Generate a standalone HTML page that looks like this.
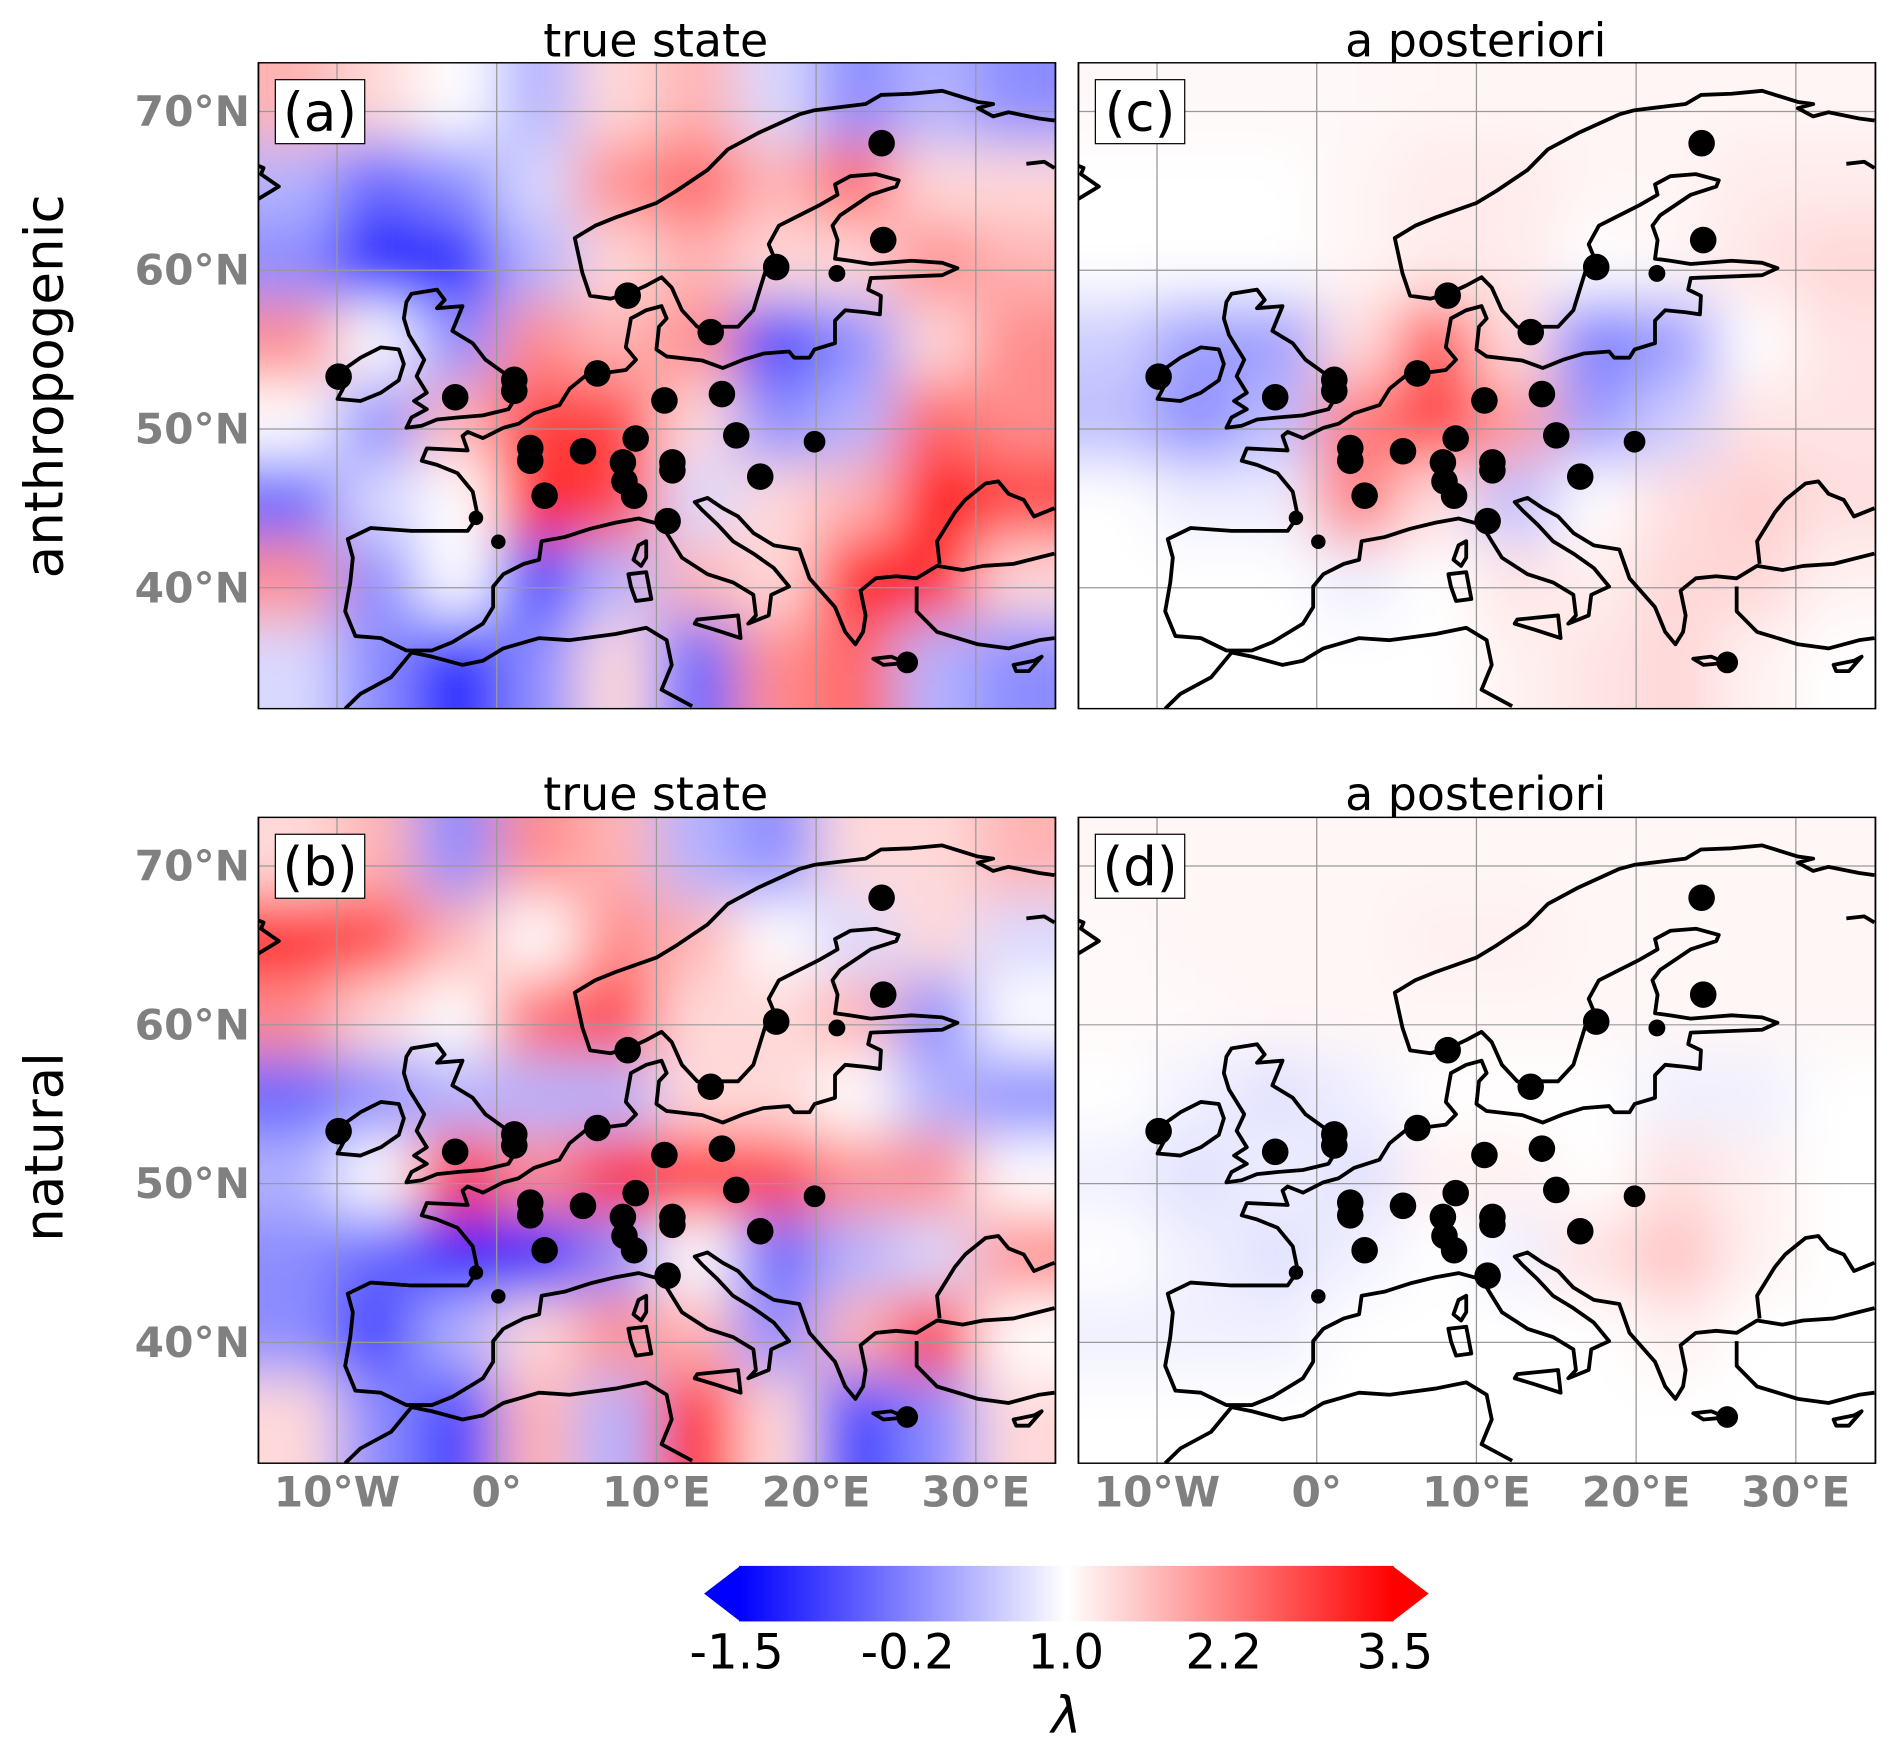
<!DOCTYPE html>
<html><head><meta charset="utf-8">
<style>
html,body{margin:0;padding:0;background:#fff;}
svg{display:block;font-family:"DejaVu Sans","Liberation Sans",sans-serif;}
.tick{fill:#808080;font-weight:bold;font-size:35px;}
.title{font-size:38px;fill:#000;}
#coast *{vector-effect:non-scaling-stroke;}
</style></head>
<body>
<svg id="fig" width="1890" height="1747" viewBox="0 0 1565 1447" preserveAspectRatio="none" xmlns="http://www.w3.org/2000/svg">
<defs>
<filter id="blur" x="-20%" y="-20%" width="140%" height="140%"><feGaussianBlur stdDeviation="55 70"/></filter>
<clipPath id="pclip"><rect x="0" y="0" width="1562" height="1566"/></clipPath>
<linearGradient id="bwr" x1="0" x2="1" y1="0" y2="0">
<stop offset="0" stop-color="#0000ff"/><stop offset="0.5" stop-color="#ffffff"/><stop offset="1" stop-color="#ff0000"/>
</linearGradient>
<g id="coast" fill="none" stroke="#000" stroke-width="3.8" stroke-linejoin="round">
<polyline points="1560,140 1530,135 1470,120 1440,130 1410,110 1440,100 1410,95 1340,68 1280,75 1220,78 1190,100 1090,115 1060,125 980,170 920,210 880,260 820,310 780,340 700,375 660,395 620,425 635,510 650,565 690,572 725,560 760,540 790,520 810,545 830,600 860,640 885,650 900,640 940,640 970,600 985,540 995,500 1010,470 1000,440 1020,395 1060,370 1100,345 1135,320 1130,295 1160,275 1210,270 1255,285 1250,300 1200,320 1140,370 1125,395 1135,430 1130,475 1160,480 1200,488 1280,480 1340,485 1370,498 1340,515 1200,522 1195,550 1220,565 1218,610 1190,605 1150,600 1130,625 1130,680 1090,695 1080,715 1050,715 1040,700 990,705 950,720 910,740 870,722 800,712 780,695 785,640 800,620 790,590 760,600 730,620 720,690 740,720 720,745 690,750 640,760 610,790 590,830 540,850 510,875 480,885 440,910 410,895 400,905 410,940 330,935 320,965 350,975 390,995 420,1040 430,1100 410,1135 300,1135 220,1128 175,1155 185,1200 180,1260 170,1330 190,1390 240,1395 290,1425 340,1425 380,1405 420,1375 440,1360 460,1320 460,1270 480,1240 520,1215 550,1205 555,1160 600,1150 650,1130 700,1115 745,1105 790,1120 800,1140 830,1200 880,1240 930,1260 970,1290 975,1340 960,1360 1000,1340 1005,1290 1040,1270 1010,1225 970,1190 930,1160 900,1120 870,1085 855,1065 880,1055 910,1080 940,1100 970,1140 1010,1170 1060,1180 1080,1250 1130,1320 1150,1380 1170,1410 1185,1380 1190,1340 1180,1280 1210,1250 1250,1245 1290,1250 1330,1220 1380,1230 1420,1220 1480,1215 1560,1190"/>
<polyline points="1335,1215 1330,1160 1365,1090 1385,1060 1425,1020 1450,1015 1470,1045 1500,1060 1520,1100 1560,1080"/>
<polyline points="1290,1270 1290,1330 1330,1380 1410,1410 1470,1420 1530,1400 1560,1395"/>
<polyline points="170,1566 200,1530 260,1490 300,1430 340,1440 400,1460 440,1450 480,1420 550,1395 610,1400 700,1385 760,1370 800,1400 810,1460 790,1520 850,1560"/>
<polygon points="290,580 300,560 350,550 365,575 350,595 400,590 380,650 420,680 445,720 490,760 500,820 490,840 440,855 390,860 350,865 320,880 290,885 300,860 330,840 305,820 330,800 310,760 325,720 310,690 295,660 285,620"/>
<polygon points="160,750 200,715 240,690 275,695 285,730 275,770 240,800 200,820 155,815 170,780"/>
<polygon points="745,1170 760,1160 760,1200 750,1220 735,1205"/>
<polygon points="725,1240 760,1235 770,1300 740,1305 730,1270"/>
<polygon points="860,1350 940,1340 945,1395 895,1375 855,1360"/>
<polygon points="1205,1445 1240,1440 1270,1455 1225,1460"/>
<polyline points="0,250 10,255 5,270 40,300 0,330"/>
<polyline points="1505,245 1540,240 1560,255"/>
<polygon points="1480,1460 1520,1450 1535,1440 1510,1475 1485,1475"/>
</g>
</defs>
<text class="title" x="543" y="47" text-anchor="middle">true state</text>
<text class="title" x="1222" y="47" text-anchor="middle">a posteriori</text>
<text class="title" x="543" y="671" text-anchor="middle">true state</text>
<text class="title" x="1222" y="671" text-anchor="middle">a posteriori</text>
<text x="37" y="320" font-size="44" text-anchor="middle" dominant-baseline="central" transform="rotate(-90 37 320)">anthropogenic</text>
<text x="37" y="950" font-size="44" text-anchor="middle" dominant-baseline="central" transform="rotate(-90 37 950)">natural</text>
<g id="panels"></g>
<g id="ticks"></g>
<g>
<polygon points="583,1320 613,1297 613,1343" fill="#0000ff"/>
<polygon points="1183,1320 1153,1297 1153,1343" fill="#ff0000"/>
<rect x="612" y="1297" width="542" height="46" fill="url(#bwr)"/>
<g id="cbticks"></g>
<text x="883" y="1435" font-size="42" font-style="italic" text-anchor="middle">λ</text>
</g>
</svg>
<script>
// heatmap data: 8 rows (lat 73->33, 5° each) x 10 cols (lon -15->35, 5° each); -1 = blue, +1 = red
const fieldA = [
[0.2,0.1,0,-0.2,0.1,0.2,-0.1,-0.3,-0.2,-0.3],
[-0.2,-0.4,-0.3,-0.1,0.3,0.4,0.2,0.4,0.1,0.1],
[-0.3,-0.9,-0.6,-0.2,0.1,0.2,0.1,0.1,0.3,0.2],
[0.3,0,-0.3,0.3,0.2,0.3,-0.5,-0.3,0.1,0.3],
[0,-0.3,0.2,0.5,0.5,0.1,-0.3,-0.2,0.4,0.3],
[-0.4,-0.1,0,0.6,0.5,-0.1,0.1,0.2,0.8,0.5],
[0.3,-0.3,0,-0.5,-0.2,0.2,0.1,0.8,0.6,0.1],
[-0.1,-0.3,-0.6,-0.3,0.1,-0.4,0.3,0.4,-0.2,-0.3]];
const fieldC = [
[0.02,0.02,0.02,0.02,0.03,0.03,0.03,0.03,0.03,0.03],
[0,0,0,0.03,0.06,0.06,0.03,0.03,0.06,0.06],
[0,0,0,0.03,0.06,0.06,0,0.03,0.08,0.12],
[-0.15,-0.3,-0.3,0.1,0.5,0.1,-0.4,-0.3,0,0.08],
[-0.2,-0.35,-0.2,0.4,0.6,0.3,-0.3,-0.15,0.08,0.08],
[0,-0.05,-0.05,0.4,0.1,-0.2,0,0.1,0.15,0.1],
[0,0,0,-0.05,0,0.08,0.05,0.12,0.12,0.04],
[0,0,0,0,0,0.04,0.08,0.12,0.04,0]];
const fieldB = [
[0.1,0.2,-0.3,0.3,0.2,-0.2,-0.3,0.1,0.1,0.2],
[0.6,0.5,0.2,0,0.3,0.2,0,-0.1,0.1,-0.1],
[0.3,0.1,0,0.4,0.5,0.1,0.1,0.2,-0.3,0],
[-0.4,-0.3,-0.2,-0.2,-0.2,0.1,0.1,0,-0.2,-0.3],
[-0.2,0,0.6,0.3,0.6,0.7,0.5,0.3,0.3,0],
[-0.3,-0.4,-0.6,-0.8,-0.3,0,-0.4,-0.2,-0.1,0.3],
[-0.3,-0.5,-0.2,0.1,0.3,0.2,-0.3,0.2,0.6,0],
[0.1,-0.3,-0.5,0.2,-0.2,0.6,0.1,-0.5,-0.3,0.1]];
const fieldD = [
[0.03,0.03,0.03,0.03,0.03,0.03,0.03,0.03,0.03,0.03],
[0.02,0.03,0.03,0.03,0.05,0.05,0.03,0.03,0.03,0.03],
[0.02,0.02,0.03,0.03,0.03,0.03,0.03,0.03,0.03,0.03],
[0,-0.05,-0.1,-0.05,0,0,0,-0.05,-0.05,0],
[-0.05,-0.1,-0.05,-0.1,0.05,0.05,0,0.1,0.05,0],
[0,-0.05,-0.1,-0.05,0,-0.05,0.1,0.2,0.05,0],
[-0.05,-0.05,-0.05,0,0,0,0,0.05,0,0],
[0,0,0,0,0,0,0,0,0,0]];
// stations
const stLon = [-9.9,-2.6,1.1,1.1,6.3,8.2,13.4,14.1,10.5,8.7,2.1,2.1,5.4,7.9,8.0,8.6,11.0,11.0,15.0,16.5,19.9,3.0,10.7,17.5,21.3,24.1,24.2,25.7,-1.3,0.1];
const stLat = [53.3,52.0,53.1,52.4,53.5,58.4,56.1,52.2,51.8,49.4,48.8,48.0,48.6,47.9,46.7,45.8,47.9,47.4,49.6,47.0,49.2,45.8,44.2,60.2,59.8,68.0,61.9,35.3,44.4,42.9];
const stSize = [11,11,11,11,11,11,11,11,11,11,11,11,11,11,11,11,11,11,11,11,9,11,11,11,7,11,11,9,6,6];
const lonTicks = [-10,0,10,20,30];
const lonLabels = ["10°W","0°","10°E","20°E","30°E"];
const latTicks = [70,60,50,40];
const latLabels = ["70°N","60°N","50°N","40°N"];
const cbValues = [-1.5,-0.2,1.0,2.2,3.5];
const cbLabels = ["-1.5","-0.2","1.0","2.2","3.5"];

const NS="http://www.w3.org/2000/svg";
const SX=0.4225, SY=0.3416;
function px(lon){return 467+lon*31.3;}            // panel-local x
function py(lat){return 888-(lat-50)*38.5;}        // panel-local y
function color(v){v=Math.max(-1,Math.min(1,v));
  if(v<0){const t=Math.round(255*(1+v));return `rgb(${t},${t},255)`;}
  const t=Math.round(255*(1-v));return `rgb(255,${t},${t})`;}
function mk(tag,attrs,parent){const e=document.createElementNS(NS,tag);for(const k in attrs)e.setAttribute(k,attrs[k]);parent.appendChild(e);return e;}

const panels=[
 {x:893-679,y:52,f:fieldA,gain:1.5,lab:"(a)",name:"panel-a"},
 {x:893,y:52,f:fieldC,gain:1.3,lab:"(c)",name:"panel-c"},
 {x:893-679,y:677,f:fieldB,gain:1.5,lab:"(b)",name:"panel-b"},
 {x:893,y:677,f:fieldD,gain:1.2,lab:"(d)",name:"panel-d"}];
const root=document.getElementById('panels');
panels.forEach(p=>{
  const g=mk('g',{transform:`translate(${p.x},${p.y}) scale(${SX},${SY})`},root);
  
  
  const cg=mk('g',{'clip-path':'url(#pclip)'},g);
  mk('rect',{x:0,y:0,width:1562,height:1566,fill:'#fff'},cg);
  const hm=mk('g',{filter:'url(#blur)'},cg);
  
  
  const nr=p.f.length, nc=p.f[0].length;
  for(let r=0;r<nr;r++)for(let c=0;c<nc;c++){
    let x0=px(-15+5*c), x1=px(-10+5*c), y0=py(73-5*r), y1=py(68-5*r);
    if(c===0)x0-=300; if(c===nc-1)x1+=300; if(r===0)y0-=300; if(r===nr-1)y1+=300;
    const cell=mk('rect',{x:x0,y:y0,width:x1-x0+1,height:y1-y0+1,fill:color(p.f[r][c]*p.gain)},hm);
    
    
  }
  lonTicks.forEach(l=>{const gl=mk('line',{x1:px(l),x2:px(l),y1:0,y2:1566,stroke:'#999','stroke-width':2.5},cg);
    
    });
  latTicks.forEach(l=>{const gl=mk('line',{x1:0,x2:1562,y1:py(l),y2:py(l),stroke:'#999','stroke-width':3},cg);
    
    });
  const co=mk('use',{href:'#coast'},cg);
  
  
  for(let i=0;i<stLon.length;i++){
    const s=stSize[i];
    const d=mk('ellipse',{cx:px(stLon[i]),cy:py(stLat[i]),rx:s/SX,ry:s/SY,fill:'#000'},cg);
    
    
  }
  mk('rect',{x:0,y:0,width:1562,height:1566,fill:'none',stroke:'#000','stroke-width':3.5},g);
  const lb=mk('g',{},root);
  
  
  mk('rect',{x:p.x+14,y:p.y+14,width:74,height:53,fill:'#fff',stroke:'#000','stroke-width':1},lb);
  const t=mk('text',{x:p.x+51,y:p.y+56,'font-size':44,'text-anchor':'middle'},lb);
  t.textContent=p.lab;
});
const tk=document.getElementById('ticks');
[52,677].forEach(oy=>{
  latTicks.forEach((l,i)=>{
    const t=mk('text',{x:207,y:oy+py(l)*SY,class:'tick','text-anchor':'end','dominant-baseline':'central'},tk);
    
    
    t.textContent=latLabels[i];
  });
});
[214,893].forEach(ox=>{
  lonTicks.forEach((l,i)=>{
    const t=mk('text',{x:ox+px(l)*SX,y:1248,class:'tick','text-anchor':'middle'},tk);
    
    
    t.textContent=lonLabels[i];
  });
});
const cb=document.getElementById('cbticks');
function cbx(v){return 610+(v+1.5)/5*545;}
cbValues.forEach((v,i)=>{
  const t=mk('text',{x:cbx(v),y:1382,'font-size':40,'text-anchor':'middle'},cb);
  
  
  t.textContent=cbLabels[i];
});
</script>
</body></html>
